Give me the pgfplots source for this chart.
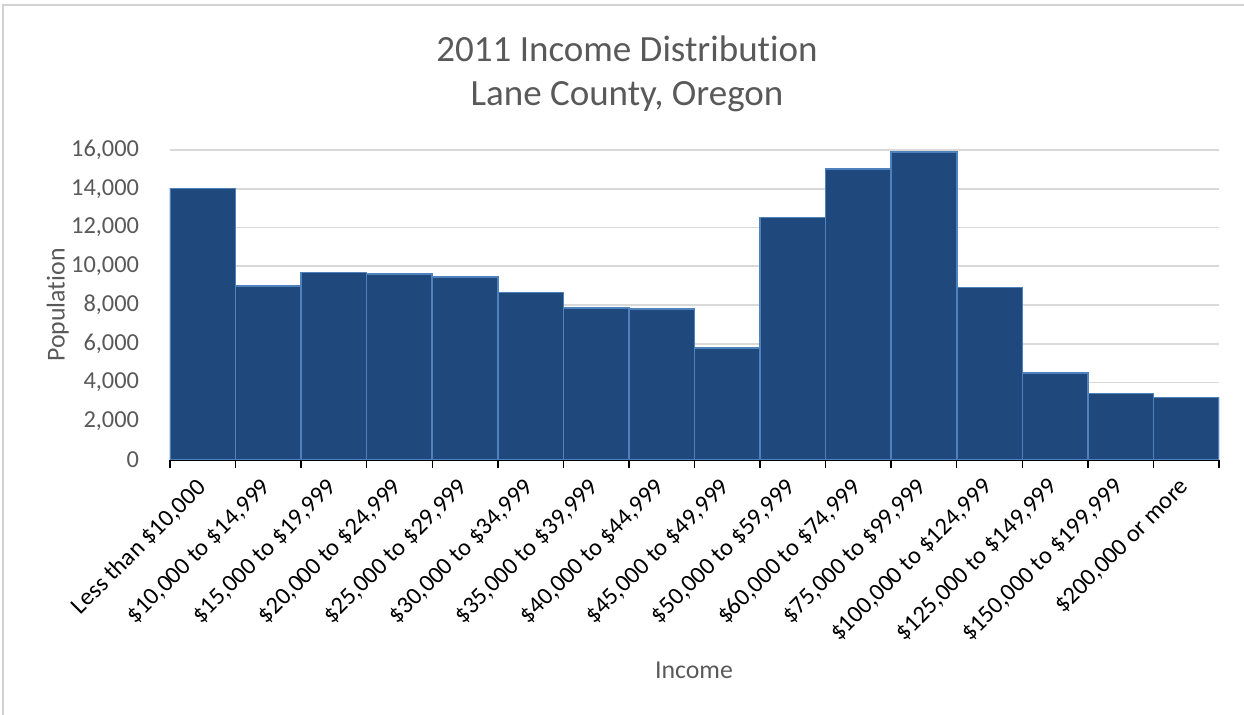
\documentclass[border=0pt]{standalone}
\usepackage{fontspec}
\setmainfont{Carlito}[Ligatures={NoCommon}]
\usepackage{pgfplots}
\pgfplotsset{compat=1.18}
\definecolor{barfill}{RGB}{31,73,125}
\definecolor{baredge}{RGB}{79,129,189}
\definecolor{txtgray}{RGB}{89,89,89}
\definecolor{gridgray}{RGB}{217,217,217}
\definecolor{framegray}{RGB}{210,210,210}
\begin{document}
\begin{tikzpicture}
\useasboundingbox (-85pt,-127.5pt) rectangle (537pt,230pt);
\draw[framegray, line width=1pt] (-83.5pt,-140pt) -- (-83.5pt,227.5pt) -- (545pt,227.5pt);
\begin{axis}[
  at={(0pt,0pt)}, anchor=south west,
  scale only axis, width=524.5pt, height=155pt,
  xmin=-0.5, xmax=15.5, ymin=0, ymax=16000,
  ybar, bar width=1, bar shift=0pt,
  axis x line*=bottom, axis y line*=left,
  y axis line style={draw=none},
  x axis line style={black, line width=0.75pt},
  ytick={0,2000,...,16000},
  ymajorgrids, grid style={gridgray, line width=0.9pt},
  major y tick style={draw=none},
  xtick={0,...,15},
  major x tick style={draw=none},
  minor xtick={-0.5,0.5,...,15.5},
  minor x tick style={black, line width=0.7pt},
  minor tick length=3.8pt,
  tick align=outside,
  scaled y ticks=false,
  /pgf/number format/.cd, 1000 sep={,}, assume math mode=true,
  /pgfplots/.cd,
  yticklabel style={font=\fontsize{12.2}{14}\selectfont, text=txtgray, anchor=east, inner sep=0pt, xshift=-11pt},
  xticklabels={{Less than \$10,000}, {\$10,000 to \$14,999}, {\$15,000 to \$19,999}, {\$20,000 to \$24,999}, {\$25,000 to \$29,999}, {\$30,000 to \$34,999}, {\$35,000 to \$39,999}, {\$40,000 to \$44,999}, {\$45,000 to \$49,999}, {\$50,000 to \$59,999}, {\$60,000 to \$74,999}, {\$75,000 to \$99,999}, {\$100,000 to \$124,999}, {\$125,000 to \$149,999}, {\$150,000 to \$199,999}, {\$200,000 or more}},
  xticklabel style={font=\fontsize{12.2}{14}\selectfont, text=black, xshift=-4pt, yshift=-4pt, rotate=45, anchor=north east, inner sep=0pt},
]
\addplot[fill=barfill, draw=baredge, line width=0.8pt] coordinates {
(0,14020) (1,8980) (2,9670) (3,9600) (4,9450) (5,8640) (6,7850) (7,7780)
(8,5790) (9,12510) (10,15030) (11,15910) (12,8910) (13,4500) (14,3440) (15,3235)
};
\end{axis}
\node[txtgray, font=\fontsize{18.5}{22}\selectfont, anchor=base] at (228.5pt,199.2pt) {2011 Income Distribution};
\node[txtgray, font=\fontsize{18.5}{22}\selectfont, anchor=base] at (228.5pt,177pt) {Lane County, Oregon};
\node[txtgray, font=\fontsize{12.9}{15}\selectfont, anchor=base, rotate=90] at (-52.7pt,77.5pt) {Population};
\node[txtgray, font=\fontsize{12.9}{15}\selectfont, anchor=base] at (262pt,-109.5pt) {Income};
\end{tikzpicture}
\end{document}
